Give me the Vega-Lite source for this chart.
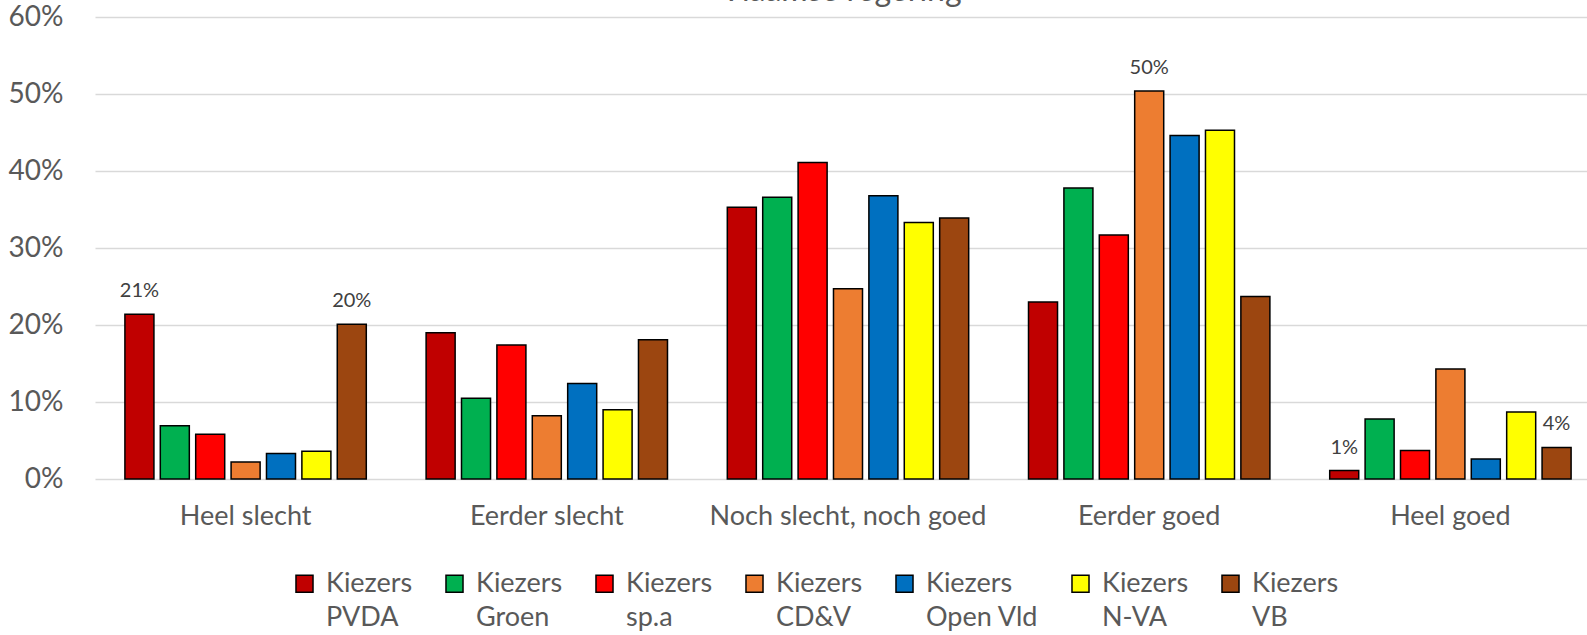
{
  "$schema": "https://vega.github.io/schema/vega-lite/v6.json",
  "width": 1492,
  "height": 462,
  "autosize": {"type": "none"},
  "padding": {"left": 95, "top": 17, "right": 0, "bottom": 156},
  "background": "white",
  "config": {"font": "Lato", "view": {"stroke": null}},
  "title": {"text": "Vlaamse regering", "fontSize": 32, "fontWeight": "normal", "color": "#595959", "baseline": "alphabetic", "offset": 0, "dy": 30, "anchor": "middle"},
  "data": {"values": [
    {"cat": "Heel slecht", "party": "Kiezers PVDA", "value": 0.214, "labeled": true},
    {"cat": "Heel slecht", "party": "Kiezers Groen", "value": 0.069, "labeled": false},
    {"cat": "Heel slecht", "party": "Kiezers sp.a", "value": 0.058, "labeled": false},
    {"cat": "Heel slecht", "party": "Kiezers CD&V", "value": 0.022, "labeled": false},
    {"cat": "Heel slecht", "party": "Kiezers Open Vld", "value": 0.033, "labeled": false},
    {"cat": "Heel slecht", "party": "Kiezers N-VA", "value": 0.036, "labeled": false},
    {"cat": "Heel slecht", "party": "Kiezers VB", "value": 0.201, "labeled": true},
    {"cat": "Eerder slecht", "party": "Kiezers PVDA", "value": 0.190, "labeled": false},
    {"cat": "Eerder slecht", "party": "Kiezers Groen", "value": 0.105, "labeled": false},
    {"cat": "Eerder slecht", "party": "Kiezers sp.a", "value": 0.174, "labeled": false},
    {"cat": "Eerder slecht", "party": "Kiezers CD&V", "value": 0.082, "labeled": false},
    {"cat": "Eerder slecht", "party": "Kiezers Open Vld", "value": 0.124, "labeled": false},
    {"cat": "Eerder slecht", "party": "Kiezers N-VA", "value": 0.090, "labeled": false},
    {"cat": "Eerder slecht", "party": "Kiezers VB", "value": 0.181, "labeled": false},
    {"cat": "Noch slecht, noch goed", "party": "Kiezers PVDA", "value": 0.353, "labeled": false},
    {"cat": "Noch slecht, noch goed", "party": "Kiezers Groen", "value": 0.366, "labeled": false},
    {"cat": "Noch slecht, noch goed", "party": "Kiezers sp.a", "value": 0.411, "labeled": false},
    {"cat": "Noch slecht, noch goed", "party": "Kiezers CD&V", "value": 0.247, "labeled": false},
    {"cat": "Noch slecht, noch goed", "party": "Kiezers Open Vld", "value": 0.368, "labeled": false},
    {"cat": "Noch slecht, noch goed", "party": "Kiezers N-VA", "value": 0.333, "labeled": false},
    {"cat": "Noch slecht, noch goed", "party": "Kiezers VB", "value": 0.339, "labeled": false},
    {"cat": "Eerder goed", "party": "Kiezers PVDA", "value": 0.230, "labeled": false},
    {"cat": "Eerder goed", "party": "Kiezers Groen", "value": 0.378, "labeled": false},
    {"cat": "Eerder goed", "party": "Kiezers sp.a", "value": 0.317, "labeled": false},
    {"cat": "Eerder goed", "party": "Kiezers CD&V", "value": 0.504, "labeled": true},
    {"cat": "Eerder goed", "party": "Kiezers Open Vld", "value": 0.446, "labeled": false},
    {"cat": "Eerder goed", "party": "Kiezers N-VA", "value": 0.453, "labeled": false},
    {"cat": "Eerder goed", "party": "Kiezers VB", "value": 0.237, "labeled": false},
    {"cat": "Heel goed", "party": "Kiezers PVDA", "value": 0.011, "labeled": true},
    {"cat": "Heel goed", "party": "Kiezers Groen", "value": 0.078, "labeled": false},
    {"cat": "Heel goed", "party": "Kiezers sp.a", "value": 0.037, "labeled": false},
    {"cat": "Heel goed", "party": "Kiezers CD&V", "value": 0.143, "labeled": false},
    {"cat": "Heel goed", "party": "Kiezers Open Vld", "value": 0.026, "labeled": false},
    {"cat": "Heel goed", "party": "Kiezers N-VA", "value": 0.087, "labeled": false},
    {"cat": "Heel goed", "party": "Kiezers VB", "value": 0.041, "labeled": true}
  ]},
  "encoding": {
    "x": {
      "field": "cat", "type": "nominal",
      "sort": ["Heel slecht", "Eerder slecht", "Noch slecht, noch goed", "Eerder goed", "Heel goed"],
      "scale": {"range": [0, 1506], "paddingInner": 0, "paddingOuter": 0},
      "axis": {"title": null, "labelAngle": 0, "labelFontSize": 27, "labelColor": "#595959", "ticks": false, "domain": false, "labelPadding": 24, "grid": false, "labelLimit": 400}
    },
    "xOffset": {
      "field": "party", "type": "nominal",
      "sort": ["Kiezers PVDA", "Kiezers Groen", "Kiezers sp.a", "Kiezers CD&V", "Kiezers Open Vld", "Kiezers N-VA", "Kiezers VB"],
      "scale": {"paddingInner": 0.18, "paddingOuter": 0.845}
    },
    "y": {
      "field": "value", "type": "quantitative",
      "scale": {"domain": [0, 0.6], "nice": false},
      "axis": {"title": null, "values": [0, 0.1, 0.2, 0.3, 0.4, 0.5, 0.6], "format": ".0%", "labelFontSize": 28, "labelColor": "#595959", "ticks": false, "domain": false, "labelPadding": 32, "gridColor": "#D9D9D9", "gridWidth": 1.5}
    }
  },
  "layer": [
    {
      "mark": {"type": "bar", "stroke": "#000000", "strokeWidth": 1.5},
      "encoding": {
        "color": {
          "field": "party", "type": "nominal",
          "sort": ["Kiezers PVDA", "Kiezers Groen", "Kiezers sp.a", "Kiezers CD&V", "Kiezers Open Vld", "Kiezers N-VA", "Kiezers VB"],
          "scale": {
            "domain": ["Kiezers PVDA", "Kiezers Groen", "Kiezers sp.a", "Kiezers CD&V", "Kiezers Open Vld", "Kiezers N-VA", "Kiezers VB"],
            "range": ["#C00000", "#00B050", "#FF0000", "#ED7D31", "#0070C0", "#FFFF00", "#9C4610"]
          },
          "legend": {
            "title": null, "orient": "none", "direction": "horizontal", "columns": 7,
            "legendX": 196, "legendY": 553,
            "symbolType": "square", "symbolSize": 290, "symbolStrokeColor": "#000000", "symbolStrokeWidth": 1.5, "symbolOpacity": 1,
            "labelFontSize": 27, "labelColor": "#595959", "labelOffset": 8, "columnPadding": 28, "labelLimit": 300,
            "labelBaseline": "middle",
            "labelExpr": "['Kiezers', substring(datum.label, 8)]",
            "encode": {"labels": {"update": {"lineHeight": {"value": 34}}}}
          }
        }
      }
    },
    {
      "transform": [{"filter": "datum.labeled"}],
      "mark": {"type": "text", "baseline": "alphabetic", "dy": -17, "fontSize": 20, "color": "#404040"},
      "encoding": {"text": {"field": "value", "type": "quantitative", "format": ".0%"}}
    }
  ]
}
